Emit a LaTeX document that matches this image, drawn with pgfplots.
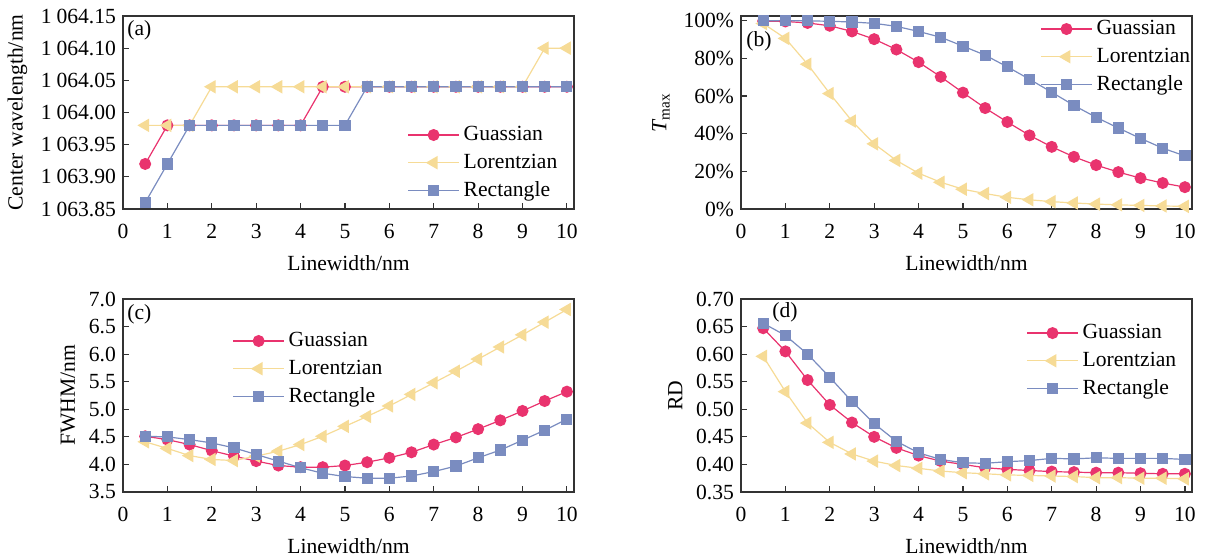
\documentclass[border=0pt]{standalone}
\usepackage{fontspec}
\setmainfont{Liberation Serif}
\usepackage{pgfplots}
\usepackage{pgfplotstable}
\pgfplotsset{compat=1.18}

\definecolor{gua}{RGB}{233,51,110}
\definecolor{lor}{RGB}{246,219,150}
\definecolor{rec}{RGB}{122,140,192}
\newcommand{\ts}{\hspace{0.22em}}

% center wavelength (nm)
\pgfplotstableread{
x    g        l        r
0.5  1063.92  1063.98  1063.86
1.0  1063.98  1063.98  1063.92
1.5  1063.98  1063.98  1063.98
2.0  1063.98  1064.04  1063.98
2.5  1063.98  1064.04  1063.98
3.0  1063.98  1064.04  1063.98
3.5  1063.98  1064.04  1063.98
4.0  1063.98  1064.04  1063.98
4.5  1064.04  1064.04  1063.98
5.0  1064.04  1064.04  1063.98
5.5  1064.04  1064.04  1064.04
6.0  1064.04  1064.04  1064.04
6.5  1064.04  1064.04  1064.04
7.0  1064.04  1064.04  1064.04
7.5  1064.04  1064.04  1064.04
8.0  1064.04  1064.04  1064.04
8.5  1064.04  1064.04  1064.04
9.0  1064.04  1064.04  1064.04
9.5  1064.04  1064.10  1064.04
10.0 1064.04  1064.10  1064.04
}\tabcw

% Tmax (%)
\pgfplotstableread{
x    g     l     r
0.5  99.8  98.5  100
1.0  99.6  90.6  100
1.5  98.8  76.9  99.9
2.0  97.3  61.3  99.7
2.5  94.3  46.7  99.3
3.0  90.2  34.6  98.6
3.5  84.7  25.8  97.0
4.0  78.0  19.0  94.3
4.5  70.2  14.2  91.2
5.0  61.8  10.5  86.5
5.5  53.6  8.2   81.7
6.0  46.2  6.2   75.5
6.5  39.1  4.9   68.9
7.0  33.0  3.9   62.0
7.5  27.7  3.2   55.0
8.0  23.3  2.6   48.7
8.5  19.6  2.2   43.0
9.0  16.4  1.9   37.5
9.5  13.8  1.6   32.3
10.0 11.6  1.4   28.2
}\tabtm

% FWHM (nm)
\pgfplotstableread{
x    g     l     r
0.5  4.51  4.41  4.51
1.0  4.45  4.29  4.50
1.5  4.36  4.16  4.45
2.0  4.25  4.09  4.39
2.5  4.15  4.07  4.30
3.0  4.06  4.15  4.18
3.5  3.98  4.24  4.06
4.0  3.95  4.36  3.94
4.5  3.95  4.51  3.84
5.0  3.98  4.69  3.78
5.5  4.04  4.87  3.75
6.0  4.12  5.06  3.75
6.5  4.22  5.27  3.79
7.0  4.36  5.48  3.87
7.5  4.49  5.69  3.97
8.0  4.64  5.91  4.12
8.5  4.80  6.13  4.26
9.0  4.97  6.35  4.44
9.5  5.15  6.58  4.62
10.0 5.32  6.81  4.82
}\tabfw

% RD
\pgfplotstableread{
x    g      l      r
0.5  0.647  0.596  0.656
1.0  0.605  0.532  0.634
1.5  0.553  0.475  0.600
2.0  0.508  0.440  0.558
2.5  0.476  0.419  0.514
3.0  0.450  0.406  0.474
3.5  0.430  0.398  0.442
4.0  0.416  0.393  0.421
4.5  0.406  0.388  0.409
5.0  0.400  0.385  0.403
5.5  0.394  0.383  0.402
6.0  0.391  0.381  0.405
6.5  0.389  0.380  0.407
7.0  0.387  0.379  0.411
7.5  0.386  0.378  0.410
8.0  0.385  0.376  0.412
8.5  0.385  0.376  0.411
9.0  0.384  0.375  0.411
9.5  0.383  0.375  0.411
10.0 0.383  0.374  0.409
}\tabrd

\pgfplotsset{
  panel/.style={
    scale only axis, width=225.5pt, height=96.5pt,
    anchor=south west,
    xmin=0, xmax=10.16, xtick={0,...,10},
    tick align=inside, xtick pos=bottom, ytick pos=left,
    major tick length=3pt,
    axis line style={black!80, line width=0.7pt},
    every tick/.style={black!80, line width=0.6pt},
    font=\fontsize{10.8}{12}\selectfont,
    /pgf/number format/assume math mode=true,
    xticklabel style={yshift=-4pt},
    xlabel={Linewidth/nm},
    xlabel style={yshift=-1.5pt},
    legend cell align=left,
    legend style={draw=none, fill=none, inner sep=0pt, row sep=1.2pt,
      anchor=north west, font=\fontsize{10.8}{12}\selectfont},
    legend image code/.code={
      \draw[mark repeat=2,mark phase=2,##1] plot coordinates {(0pt,0pt) (12.75pt,0pt) (25.5pt,0pt)};},
  },
  gua/.style={color=gua, line width=0.6pt, mark=*, mark size=2.7pt},
  lor/.style={color=lor, line width=0.6pt, mark=triangle*, mark size=3.3pt, mark options={rotate=90}},
  rec/.style={color=rec, line width=0.6pt, mark=square*, mark size=2.5pt},
}

\begin{document}
\begin{tikzpicture}
\path[use as bounding box] (0,0) rectangle (602.5pt,278.5pt);

% (a)
\begin{axis}[panel, at={(61.5pt,174pt)},
  ylabel={Center wavelength/nm},
  y coord trafo/.code={\edef\pgfmathresult{\fpeval{#1-1063}}},
  ymin=1063.85, ymax=1064.15,
  ytick={1063.85,1063.90,1063.95,1064.00,1064.05,1064.10,1064.15},
  yticklabels={1\ts063.85,1\ts063.90,1\ts063.95,1\ts064.00,1\ts064.05,1\ts064.10,1\ts064.15},
  legend style={at={(0.63,0.451)}},
]
\addplot[gua] table[x=x,y=g] {\tabcw};
\addplot[lor] table[x=x,y=l] {\tabcw};
\addplot[rec] table[x=x,y=r] {\tabcw};
\legend{Guassian,Lorentzian,Rectangle}
\node[anchor=west, inner sep=1pt, xshift=1pt, yshift=-7pt] at (rel axis cs:0,1) {(a)};
\end{axis}

% (b)
\begin{axis}[panel, at={(370.5pt,174pt)},
  ylabel={{\itshape T}\textsubscript{max}},
  ymin=0, ymax=102.5, ytick={0,20,...,100},
  yticklabel={\pgfmathprintnumber{\tick}\%},
  legend style={at={(0.663,1.0)}},
]
\addplot[gua] table[x=x,y=g] {\tabtm};
\addplot[lor] table[x=x,y=l] {\tabtm};
\addplot[rec] table[x=x,y=r] {\tabtm};
\legend{Guassian,Lorentzian,Rectangle}
\node[anchor=west, inner sep=1pt, xshift=1.5pt, yshift=-12.5pt] at (rel axis cs:0,1) {(b)};
\end{axis}

% (c)
\begin{axis}[panel, at={(61.5pt,32.5pt)},
  ylabel={FWHM/nm},
  ymin=3.5, ymax=7, ytick={3.5,4,...,7},
  yticklabel style={/pgf/number format/.cd, fixed, fixed zerofill, precision=1},
  legend style={at={(0.242,0.85)}},
]
\addplot[gua] table[x=x,y=g] {\tabfw};
\addplot[lor] table[x=x,y=l] {\tabfw};
\addplot[rec] table[x=x,y=r] {\tabfw};
\legend{Guassian,Lorentzian,Rectangle}
\node[anchor=west, inner sep=1pt, xshift=1pt, yshift=-7.5pt] at (rel axis cs:0,1) {(c)};
\end{axis}

% (d)
\begin{axis}[panel, at={(370.5pt,32.5pt)},
  ylabel={RD},
  ymin=0.35, ymax=0.70, ytick={0.35,0.40,...,0.70},
  yticklabel style={/pgf/number format/.cd, fixed, fixed zerofill, precision=2},
  legend style={at={(0.632,0.891)}},
]
\addplot[gua] table[x=x,y=g] {\tabrd};
\addplot[lor] table[x=x,y=l] {\tabrd};
\addplot[rec] table[x=x,y=r] {\tabrd};
\legend{Guassian,Lorentzian,Rectangle}
\node[anchor=west, inner sep=1pt, xshift=14.5pt, yshift=-6.5pt] at (rel axis cs:0,1) {(d)};
\end{axis}
\end{tikzpicture}
\end{document}
